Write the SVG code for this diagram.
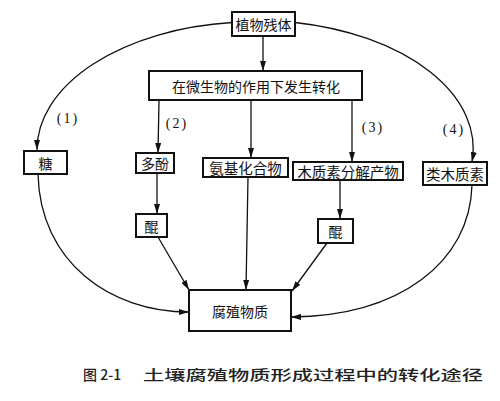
<svg xmlns="http://www.w3.org/2000/svg" width="500" height="401" viewBox="0 0 500 401">
<defs>
<marker id="ah" viewBox="0 0 10 6" refX="10" refY="3" markerWidth="10" markerHeight="6" markerUnits="userSpaceOnUse" orient="auto">
<path d="M0,0 L10,3 L0,6 Z" fill="#111"/>
</marker>
<style>
.box{fill:#fff;stroke:#111;stroke-width:2}
.t{font-family:"Noto Sans CJK SC","Noto Sans",sans-serif;font-size:14px;fill:#111;text-anchor:middle;dominant-baseline:central}
.n{font-family:"Liberation Serif",serif;font-size:14px;fill:#111;text-anchor:middle;dominant-baseline:central;letter-spacing:2px}
.c{fill:none;stroke:#111;stroke-width:1.3}
.cap{font-family:"Noto Sans CJK SC","Noto Sans",sans-serif;font-size:14px;font-weight:500;fill:#222}
</style>
</defs>
<rect width="500" height="401" fill="#fff"/>
<g id="connectors">
<path class="c" d="M232,22.5 A217.5,128 0 0 0 37,150" marker-end="url(#ah)"/>
<path class="c" d="M295,22.5 A217.5,128 0 0 1 472,162" marker-end="url(#ah)"/>
<path class="c" d="M263,36 L263,71" marker-end="url(#ah)"/>
<path class="c" d="M159,100 L158,153" marker-end="url(#ah)"/>
<path class="c" d="M251,100 L251,158" marker-end="url(#ah)"/>
<path class="c" d="M352,100 L352,162" marker-end="url(#ah)"/>
<path class="c" d="M157,173 L157,214" marker-end="url(#ah)"/>
<path class="c" d="M340,180 L340,219" marker-end="url(#ah)"/>
<path class="c" d="M158,237 L189,290" marker-end="url(#ah)"/>
<path class="c" d="M248,177 L246,290" marker-end="url(#ah)"/>
<path class="c" d="M327,243 L292,291" marker-end="url(#ah)"/>
<path class="c" d="M38,174 C40,262 110,312 189,312" marker-end="url(#ah)"/>
<path class="c" d="M472,185 C470,262 400,316 291,317" marker-end="url(#ah)"/>
</g>
<g id="n-plant"><rect class="box" x="232" y="12" width="63" height="24"/><text class="t" x="263.5" y="24">植物残体</text></g>
<g id="n-micro"><rect class="box" x="149" y="71" width="213" height="29"/><text class="t" x="256" y="86">在微生物的作用下发生转化</text></g>
<g id="n-sugar"><rect class="box" x="24" y="151" width="43" height="23"/><text class="t" x="45.5" y="163">糖</text></g>
<g id="n-polyphenol"><rect class="box" x="136" y="153" width="38" height="20"/><text class="t" x="155" y="163">多酚</text></g>
<g id="n-amino"><rect class="box" x="203" y="158" width="85" height="19"/><text class="t" x="245.5" y="167.5" style="font-size:14.5px">氨基化合物</text></g>
<g id="n-lignin"><rect class="box" x="293" y="162" width="110" height="18"/><text class="t" x="348" y="171" style="font-size:14.5px">木质素分解产物</text></g>
<g id="n-ligninlike"><rect class="box" x="423" y="162" width="64" height="23"/><text class="t" x="455" y="173.5" style="font-size:14.5px">类木质素</text></g>
<g id="n-quinone1"><rect class="box" x="136" y="214" width="31" height="23"/><text class="t" x="151.5" y="225.5">醌</text></g>
<g id="n-quinone2"><rect class="box" x="318" y="219" width="35" height="24"/><text class="t" x="335.5" y="231">醌</text></g>
<g id="n-humus"><rect class="box" x="189" y="290" width="102" height="41"/><text class="t" x="240" y="310.5">腐殖物质</text></g>
<g id="labels">
<text class="n" x="68" y="118">(1)</text>
<text class="n" x="177" y="123">(2)</text>
<text class="n" x="373" y="127">(3)</text>
<text class="n" x="454" y="129">(4)</text>
</g>
<g id="caption">
<text class="cap" x="83" y="380">图 2-1</text>
<text class="cap" x="143" y="380" textLength="340" lengthAdjust="spacingAndGlyphs">土壤腐殖物质形成过程中的转化途径</text>
</g>
</svg>
